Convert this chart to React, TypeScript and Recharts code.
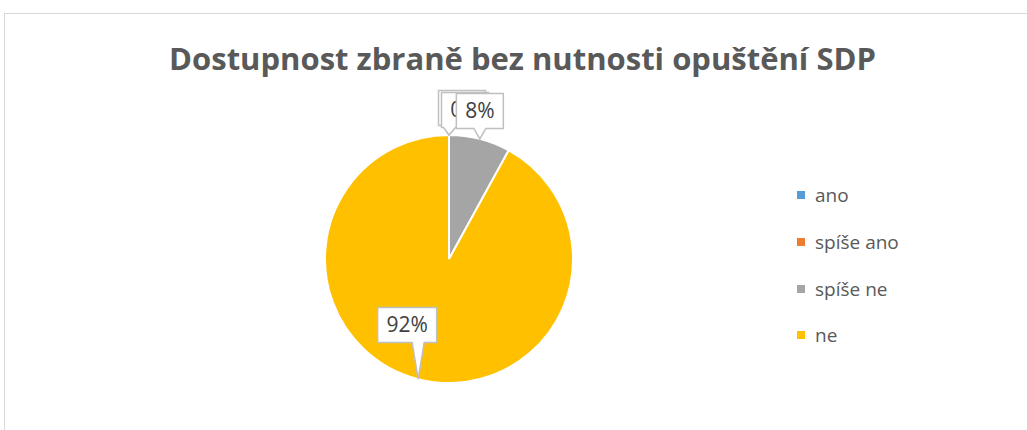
import React from 'react';
import { PieChart, Pie, Cell, Legend } from 'recharts';

const categories = ['ano', 'spíše ano', 'spíše ne', 'ne'];
const values = [0, 0, 8, 92];
const colors = ['#5B9BD5', '#ED7D31', '#A5A5A5', '#FFC000'];
const labelOffsets = [
  [13, -27],
  [16, -25],
  [0, -28],
  [-11, -54],
];

const data = categories.map((name, i) => ({ name, value: values[i] }));
const RAD = Math.PI / 180;

const renderLabel = (props: any) => {
  const { cx, cy, midAngle, outerRadius, index, value } = props;
  const tx = cx + outerRadius * Math.cos(-midAngle * RAD);
  const ty = cy + outerRadius * Math.sin(-midAngle * RAD);
  const [ox, oy] = labelOffsets[index] || [0, -30];
  const text = `${value}%`;
  const w = 23 + text.length * 12;
  const h = 35;
  const bx = tx + ox - w / 2;
  const by = ty + oy - h / 2;
  const bottom = by + h;
  const baseC = Math.min(Math.max(tx, bx + 8), bx + w - 8);
  const b1 = baseC - 6;
  const b2 = baseC + 6;
  const tipY = Math.max(ty, bottom + 4);
  const d = `M${bx},${by} L${bx + w},${by} L${bx + w},${bottom} L${b2},${bottom} L${tx},${tipY} L${b1},${bottom} L${bx},${bottom} Z`;
  return (
    <g key={`lbl-${index}`}>
      <path d={d} fill="#ffffff" stroke="#BFBFBF" strokeWidth={1.5} />
      <text
        x={bx + w / 2}
        y={by + h / 2 + 1}
        textAnchor="middle"
        dominantBaseline="middle"
        fontFamily="Open Sans"
        fontSize={21}
        fill="#404040"
        stroke="none"
        style={{ fill: '#404040' }}
      >
        {text}
      </text>
    </g>
  );
};

const LegendContent = () => (
  <div style={{ fontFamily: 'Open Sans', fontSize: 19, color: '#595959' }}>
    {categories.map((c, i) => (
      <div key={c} style={{ display: 'flex', alignItems: 'center', height: 46.7 }}>
        <span
          style={{
            display: 'inline-block',
            width: 8,
            height: 8,
            background: colors[i],
            marginRight: 10,
          }}
        />
        <span>{c}</span>
      </div>
    ))}
  </div>
);

export default function App() {
  return (
    <div style={{ position: 'absolute', left: 0, top: 0, width: 1027, height: 430, background: '#fff', overflow: 'hidden' }}>
      <div
        style={{
          position: 'absolute',
          left: 4,
          top: 13,
          width: 1100,
          height: 500,
          borderLeft: '1.5px solid #D9D9D9',
          borderTop: '1.5px solid #D9D9D9',
        }}
      />
      <div
        style={{
          position: 'absolute',
          left: 0,
          top: 37,
          width: 1045,
          textAlign: 'center',
          fontFamily: 'Open Sans',
          fontWeight: 700,
          fontSize: 31,
          color: '#595959',
          lineHeight: '42px',
        }}
      >
        Dostupnost zbraně bez nutnosti opuštění SDP
      </div>
      <div style={{ position: 'absolute', left: 0, top: 0 }}>
        <PieChart width={1027} height={430} margin={{ top: 0, right: 0, bottom: 0, left: 0 }}>
          <Pie
            data={data}
            dataKey="value"
            nameKey="name"
            cx={449}
            cy={259}
            outerRadius={124}
            startAngle={90}
            endAngle={-270}
            stroke="#ffffff"
            strokeWidth={2}
            label={renderLabel}
            labelLine={false}
            isAnimationActive={false}
          >
            {data.map((d, i) => (
              <Cell key={d.name} fill={colors[i]} />
            ))}
          </Pie>
          <Legend
            layout="vertical"
            align="right"
            verticalAlign="top"
            wrapperStyle={{ left: 797, top: 172, width: 200 }}
            content={<LegendContent />}
          />
        </PieChart>
      </div>
    </div>
  );
}
